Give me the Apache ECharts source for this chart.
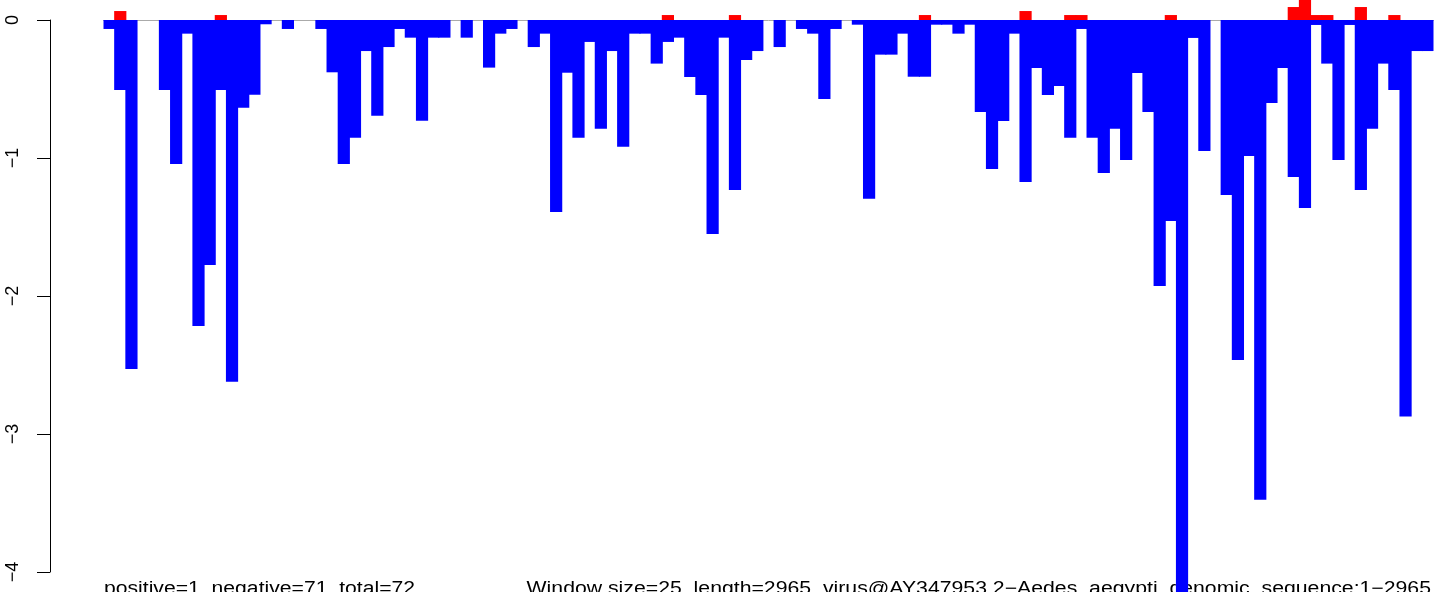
<!DOCTYPE html>
<html>
<head>
<meta charset="utf-8">
<script src="https://cdn.jsdelivr.net/npm/echarts@6/dist/echarts.min.js"></script>
<style>
html,body{margin:0;padding:0;background:#fff;}
#chart{width:1441px;height:592px;}
</style>
</head>
<body>
<div id="chart"></div>
<script>
// Window start positions (window size 25, length 2965)
const categories = Array.from({length: 119}, (_, i) => String(i * 25 + 1));

// Negative (blue) values per window
const negativeValues = [
  -0.065, -0.507, -2.529, 0, 0, -0.507, -1.043, -0.099, -2.217, -1.775,
  -0.507, -2.621, -0.635, -0.541, -0.031, 0, -0.065, 0, 0, -0.065,
  -0.379, -1.043, -0.853, -0.225, -0.693, -0.196, -0.065, -0.128, -0.730, -0.128,
  -0.128, 0, -0.128, 0, -0.345, -0.099, -0.065, 0, -0.196, -0.099,
  -1.391, -0.382, -0.853, -0.159, -0.788, -0.225, -0.918, -0.099, -0.099, -0.316,
  -0.159, -0.128, -0.413, -0.543, -1.551, -0.128, -1.232, -0.290, -0.225, 0,
  -0.196, 0, -0.065, -0.099, -0.572, -0.065, 0, -0.034, -1.295, -0.251,
  -0.251, -0.099, -0.411, -0.411, -0.034, -0.034, -0.099, -0.034, -0.667, -1.080,
  -0.732, -0.099, -1.174, -0.348, -0.543, -0.478, -0.853, -0.065, -0.853, -1.109,
  -0.788, -1.014, -0.384, -0.667, -1.928, -1.457, -4.250, -0.130, -0.949, 0,
  -1.268, -2.464, -0.986, -3.476, -0.601, -0.348, -1.138, -1.362, -0.036, -0.316,
  -1.014, -0.036, -1.232, -0.788, -0.316, -0.507, -2.874, -0.225, -0.225
];

// Positive (red) values per window
const positiveValues = [
  0, 0.065, 0, 0, 0, 0, 0, 0, 0, 0,
  0.036, 0, 0, 0, 0, 0, 0, 0, 0, 0,
  0, 0, 0, 0, 0, 0, 0, 0, 0, 0,
  0, 0, 0, 0, 0, 0, 0, 0, 0, 0,
  0, 0, 0, 0, 0, 0, 0, 0, 0, 0,
  0.036, 0, 0, 0, 0, 0, 0.036, 0, 0, 0,
  0, 0, 0, 0, 0, 0, 0, 0, 0, 0,
  0, 0, 0, 0.036, 0, 0, 0, 0, 0, 0,
  0, 0, 0.065, 0, 0, 0, 0.036, 0.036, 0, 0,
  0, 0, 0, 0, 0, 0.036, 0, 0, 0, 0,
  0, 0, 0, 0, 0, 0, 0.094, 0.145, 0.036, 0.036,
  0, 0, 0.094, 0, 0, 0.036, 0, 0, 0
];

const yTicks = [-4, -3, -2, -1, 0];
const leftText = 'positive=1, negative=71, total=72';
const rightText = 'Window size=25, length=2965, virus@AY347953.2\u2212Aedes_aegypti_genomic_sequence:1\u22122965';

const PAD = 20 / 138; // R plot-region padding beyond the axis range
const FONT = '"Liberation Sans", Arial, Helvetica, sans-serif';

const chart = echarts.init(document.getElementById('chart'), null, {renderer: 'canvas'});
const toData = arr => arr.map(v => (v === 0 ? null : v));

chart.setOption({
  animation: false,
  backgroundColor: '#ffffff',
  grid: [
    {left: 103.5, right: 7.5, top: 0, bottom: 0, containLabel: false},
    {left: 50, width: 10, top: 20, bottom: 20, containLabel: false}
  ],
  xAxis: [
    {
      type: 'category', gridIndex: 0, data: categories,
      boundaryGap: true,
      axisLine: {show: true, onZero: true, lineStyle: {color: '#aaaaaa', width: 1}},
      axisTick: {show: false}, axisLabel: {show: false}, splitLine: {show: false}
    },
    {type: 'value', gridIndex: 1, show: false, min: 0, max: 1}
  ],
  yAxis: [
    {
      type: 'value', gridIndex: 0, show: false,
      min: -4 - PAD, max: PAD,
      splitLine: {show: false}
    },
    {
      type: 'value', gridIndex: 1, min: -4, max: 0, interval: 1,
      axisLine: {show: true, lineStyle: {color: '#000000', width: 1}},
      axisTick: {show: true, length: 13, inside: false, lineStyle: {color: '#000000', width: 1}},
      splitLine: {show: false},
      axisLabel: {
        show: true, rotate: 90, margin: 28, color: '#000000',
        fontSize: 18, fontFamily: FONT,
        customValues: yTicks,
        formatter: v => String(v).replace('-', '\u2212')
      }
    }
  ],
  series: [
    {
      type: 'bar', name: 'negative', xAxisIndex: 0, yAxisIndex: 0,
      data: toData(negativeValues),
      barWidth: 12.2, barGap: '-100%',
      itemStyle: {color: '#0000ff'},
      silent: true
    },
    {
      type: 'bar', name: 'positive', xAxisIndex: 0, yAxisIndex: 0,
      data: toData(positiveValues),
      barWidth: 12.2, barGap: '-100%',
      itemStyle: {color: '#ff0000'},
      silent: true
    }
  ],
  graphic: [
    {
      type: 'text', x: 104, y: 588.8, scaleX: 1.175,
      style: {text: leftText, fill: '#000000', font: '18px ' + FONT, textAlign: 'left', textVerticalAlign: 'middle'}
    },
    {
      type: 'text', x: 1431, y: 588.8, scaleX: 1.18,
      style: {text: rightText, fill: '#000000', font: '18px ' + FONT, textAlign: 'right', textVerticalAlign: 'middle'}
    }
  ]
});
</script>
</body>
</html>
